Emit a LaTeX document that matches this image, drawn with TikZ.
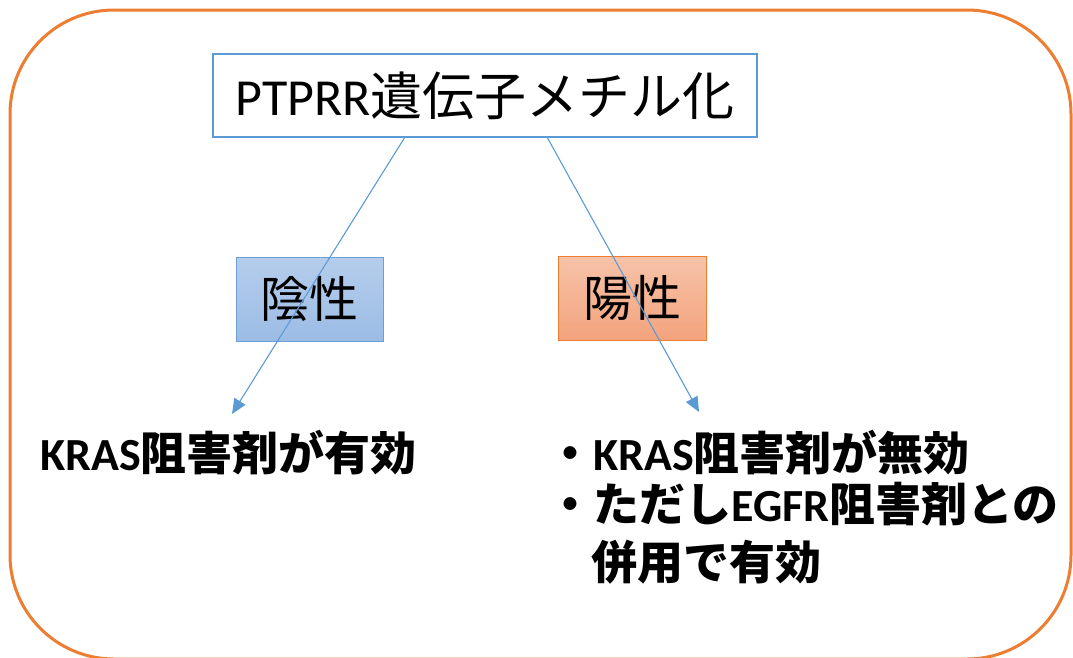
\documentclass[tikz,border=0pt]{standalone}
\usepackage{fontspec}
\setmainfont{Noto Sans CJK JP}
\newfontfamily\lat{Carlito}
\usetikzlibrary{arrows.meta}
\definecolor{frameor}{HTML}{ED7D31}
\definecolor{lineblue}{HTML}{5B9BD5}
\definecolor{bluetop}{HTML}{B5CDEC}
\definecolor{bluebot}{HTML}{9CBCE5}
\definecolor{bluebord}{HTML}{6E9ED6}
\definecolor{ortop}{HTML}{F7C3A9}
\definecolor{orbot}{HTML}{F3A37D}
\newcommand{\latb}[1]{{\lat\bfseries #1}}
\tikzset{
  topbox/.style={draw=lineblue, line width=2pt, fill=white, minimum width=544pt, minimum height=83pt, inner sep=0pt, font=\fontsize{52}{60}\selectfont},
  negbox/.style={draw=bluebord, line width=1pt, top color=bluetop, bottom color=bluebot, minimum width=147pt, minimum height=84pt, inner sep=0pt, font=\fontsize{49}{56}\selectfont},
  posbox/.style={draw=frameor, line width=1pt, top color=ortop, bottom color=orbot, minimum width=148pt, minimum height=84pt, inner sep=0pt, font=\fontsize{49}{56}\selectfont},
  result/.style={anchor=west, inner sep=0pt, text height=0.8em, text depth=0.1em, font=\fontsize{46}{52}\selectfont\bfseries},
  conn/.style={draw=lineblue, line width=1.1pt, -{Triangle[length=15pt,width=13pt]}}
}
\begin{document}
\begin{tikzpicture}[x=1pt,y=-1pt]
\useasboundingbox (0,0) rectangle (1073,657);
\begin{scope}
\clip (0,0) rectangle (1073,657);
\draw[frameor, line width=3pt, rounded corners=104pt] (10,10) rectangle (1071,659);
\end{scope}
\node[topbox] (top) at (485,95.5) {{\lat PTPRR}遺伝子メチル化};
\node[negbox] (neg) at (309.5,299) {陰性};
\node[posbox] (pos) at (632,298) {陽性};
\coordinate (s1) at (405,137);
\coordinate (s2) at (547,137);
\coordinate (e1) at (232,414);
\coordinate (e2) at (699,412);
\draw[conn] (s1) -- (e1);
\draw[conn] (s2) -- (e2);
\node[result] (r1) at (40,467) {\latb{KRAS}阻害剤が有効};
\node[result] (r2) at (547,467) {・\latb{KRAS}阻害剤が無効};
\node[result] (r3) at (547,518) {・ただし\latb{EGFR}阻害剤との};
\node[result] (r4) at (591,576) {併用で有効};
\end{tikzpicture}
\end{document}
